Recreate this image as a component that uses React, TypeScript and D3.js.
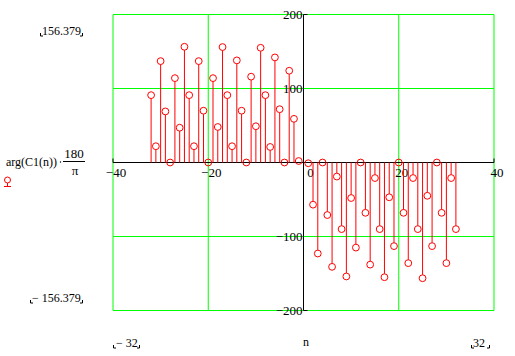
import React from "react";
import * as d3 from "d3";

const nValues = [
  -32, -31, -30, -29, -28, -27, -26, -25, -24, -23, -22, -21, -20, -19, -18, -17,
  -16, -15, -14, -13, -12, -11, -10, -9, -8, -7, -6, -5, -4, -3, -2, -1,
  1, 2, 3, 4, 5, 6, 7, 8, 9, 10, 11, 12, 13, 14, 15, 16,
  17, 18, 19, 20, 21, 22, 23, 24, 25, 26, 27, 28, 29, 30, 31, 32,
];
const phaseDeg = [
  91, 22, 137, 69, 0, 114, 47, 156.379, 91, 22, 137, 70, 0, 114, 48, 156,
  91, 22, 138, 70, 0, 116, 49, 155, 91, 21, 142, 72, 0, 124, 59, 2,
  -1, -57, -123, 0, -71, -141, -19, -90, -154, -48, -115, 0, -68, -138, -21, -90,
  -155, -47, -113, 0, -68, -136, -21, -90, -156.379, -45, -113, 0, -68, -136, -21, -90,
];
const xTicks = [-40, -20, 0, 20, 40];
const yTicks = [-200, -100, 100, 200];
const xTickLabels = ["\u221240", "\u221220", "0", "20", "40"];
const yTickLabels = ["\u2212200", "\u2212100", "100", "200"];
const yLimitLabels = ["156.379", "\u2212 156.379"];
const xLimitLabels = ["\u2212 32", "32"];
const xAxisTitle = "n";

const W = 515;
const H = 356;
const FONT = "Liberation Serif, DejaVu Serif, serif";
const RED = "#ff0000";
const GREEN = "#00ff00";
const TS: React.CSSProperties = { fontFamily: FONT };

function Corner({ x, y, right }: { x: number; y: number; right?: boolean }) {
  const d = right
    ? `M${x - 2},${y + 0.5}H${x + 0.5}V${y - 2.5}`
    : `M${x + 0.5},${y - 2.5}V${y + 0.5}H${x + 3}`;
  return <path d={d} fill="none" stroke="#000" strokeWidth={1} />;
}

export default function App() {
  const x = d3.scaleLinear().domain([-40, 40]).range([113, 494]);
  const y = d3.scaleLinear().domain([-200, 200]).range([310.5, 14.5]);
  const r = 3.4;
  const y0 = y(0);
  const x0 = x(0);

  return (
    <svg
      width={W}
      height={H}
      style={{ position: "absolute", left: 0, top: 0, background: "#fff", fontFamily: FONT }}
    >
      <rect x={0} y={0} width={W} height={H} fill="#fff" />
      {xTicks.filter((t) => t !== 0).map((t) => (
        <line key={"gx" + t} x1={x(t)} x2={x(t)} y1={y(200)} y2={y(-200)} stroke={GREEN} strokeWidth={1} />
      ))}
      {yTicks.map((t) => (
        <line key={"gy" + t} x1={x(-40)} x2={x(40)} y1={y(t)} y2={y(t)} stroke={GREEN} strokeWidth={1} />
      ))}
      <line x1={x(-40)} x2={x(40)} y1={y0} y2={y0} stroke="#000" strokeWidth={1} />
      <line x1={x0} x2={x0} y1={y(200)} y2={y(-200)} stroke="#000" strokeWidth={1} />
      <line x1={x(-40)} x2={x(-40)} y1={y0} y2={y0 - 4} stroke="#000" />
      <line x1={x(40)} x2={x(40)} y1={y0} y2={y0 - 4} stroke="#000" />
      <line x1={x0} x2={x0 + 4} y1={y(200)} y2={y(200)} stroke="#000" />
      <line x1={x0} x2={x0 + 4} y1={y(-200)} y2={y(-200)} stroke="#000" />
      {xTicks.map((t, i) => (
        <text
          key={"xl" + t}
          x={x(t) + (t === 0 ? 7 : 3)}
          y={y0 + 14}
          fontSize={13}
          textAnchor="middle"
          fill="#000"
          style={TS}
        >
          {xTickLabels[i]}
        </text>
      ))}
      {yTicks.map((t, i) => (
        <text key={"yl" + t} x={x0 - 1} y={y(t) + 4.5} fontSize={13} textAnchor="end" fill="#000" style={TS}>
          {yTickLabels[i]}
        </text>
      ))}
      {nValues.map((n, i) => {
        const v = phaseDeg[i];
        const cy = y(v);
        const dir = v >= 0 ? 1 : -1;
        const end = cy + dir * r;
        const hasStem = Math.abs(y0 - cy) > r;
        return (
          <g key={"s" + n}>
            {hasStem && (
              <line x1={x(n)} x2={x(n)} y1={y0} y2={end} stroke={RED} strokeWidth={1} />
            )}
            <circle cx={x(n)} cy={cy} r={r} fill="none" stroke={RED} strokeWidth={1} />
          </g>
        );
      })}
      <text x={6} y={166} fontSize={12} fill="#000" style={TS}>
        arg(C1(n))
      </text>
      <circle cx={60.5} cy={162} r={0.7} fill="#000" />
      <text x={74} y={158} fontSize={13} textAnchor="middle" fill="#000" style={TS}>180</text>
      <line x1={63} x2={85} y1={161.5} y2={161.5} stroke="#000" strokeWidth={1} />
      <text x={75} y={175} fontSize={13} textAnchor="middle" fill="#000" style={TS}>π</text>
      <circle cx={7.5} cy={180} r={3} fill="none" stroke={RED} strokeWidth={1} />
      <line x1={7.5} x2={7.5} y1={183} y2={186.5} stroke={RED} />
      <line x1={4} x2={11} y1={186.5} y2={186.5} stroke={RED} />
      <text x={42} y={35} fontSize={12} fill="#000" style={TS}>{yLimitLabels[0]}</text>
      <Corner x={40} y={35.5} />
      <Corner x={82} y={35.5} right />
      <text x={32} y={302} fontSize={12} fill="#000" style={TS}>{yLimitLabels[1]}</text>
      <Corner x={30} y={302.5} />
      <Corner x={82} y={302.5} right />
      <text x={116} y={347} fontSize={12} fill="#000" style={TS}>{xLimitLabels[0]}</text>
      <Corner x={113} y={347.5} />
      <Corner x={139} y={347.5} right />
      <text x={473} y={347} fontSize={12} fill="#000" style={TS}>{xLimitLabels[1]}</text>
      <Corner x={471} y={347.5} />
      <Corner x={489} y={347.5} right />
      <text x={306} y={346} fontSize={12} textAnchor="middle" fill="#000" style={TS}>{xAxisTitle}</text>
    </svg>
  );
}
